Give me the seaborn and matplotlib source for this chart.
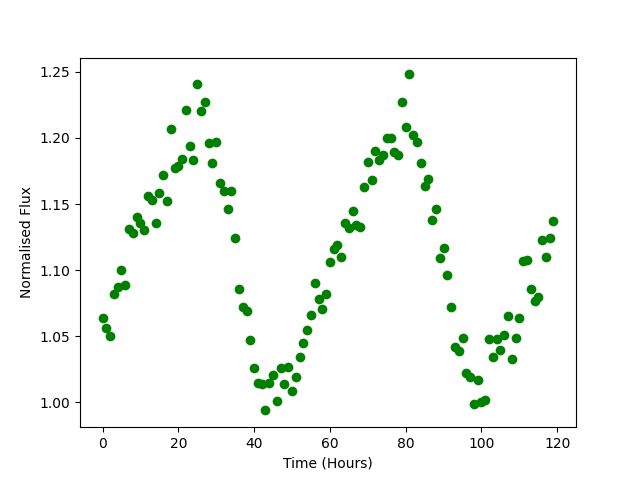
import matplotlib
matplotlib.use("Agg")
import matplotlib.pyplot as plt
import seaborn as sns
import pandas as pd

# Hourly samples of normalised flux
hours = list(range(120))
flux = [
    1.064, 1.056, 1.050, 1.082, 1.087, 1.100, 1.089, 1.131, 1.128, 1.140,
    1.136, 1.130, 1.156, 1.153, 1.136, 1.158, 1.172, 1.152, 1.207, 1.177,
    1.179, 1.184, 1.221, 1.194, 1.183, 1.241, 1.220, 1.227, 1.196, 1.181,
    1.197, 1.166, 1.160, 1.146, 1.160, 1.124, 1.086, 1.072, 1.069, 1.047,
    1.026, 1.015, 1.014, 0.994, 1.015, 1.021, 1.001, 1.026, 1.014, 1.027,
    1.009, 1.019, 1.034, 1.045, 1.055, 1.066, 1.090, 1.078, 1.071, 1.082,
    1.106, 1.116, 1.119, 1.110, 1.136, 1.132, 1.145, 1.134, 1.133, 1.163,
    1.182, 1.168, 1.190, 1.183, 1.187, 1.200, 1.200, 1.189, 1.187, 1.227,
    1.208, 1.248, 1.202, 1.197, 1.181, 1.164, 1.169, 1.138, 1.146, 1.109,
    1.117, 1.096, 1.072, 1.042, 1.039, 1.049, 1.022, 1.019, 0.999, 1.017,
    1.000, 1.002, 1.048, 1.034, 1.048, 1.040, 1.051, 1.065, 1.033, 1.049,
    1.064, 1.107, 1.108, 1.086, 1.077, 1.080, 1.123, 1.110, 1.124, 1.137,
]

df = pd.DataFrame({"time": hours, "flux": flux})

fig, ax = plt.subplots(figsize=(6.4, 4.8), dpi=100)
sns.scatterplot(data=df, x="time", y="flux", color="green", s=49,
                linewidth=0, ax=ax)
ax.set_xlabel("Time (Hours)")
ax.set_ylabel("Normalised Flux")

plt.savefig("out.png", dpi=100)
plt.close()
